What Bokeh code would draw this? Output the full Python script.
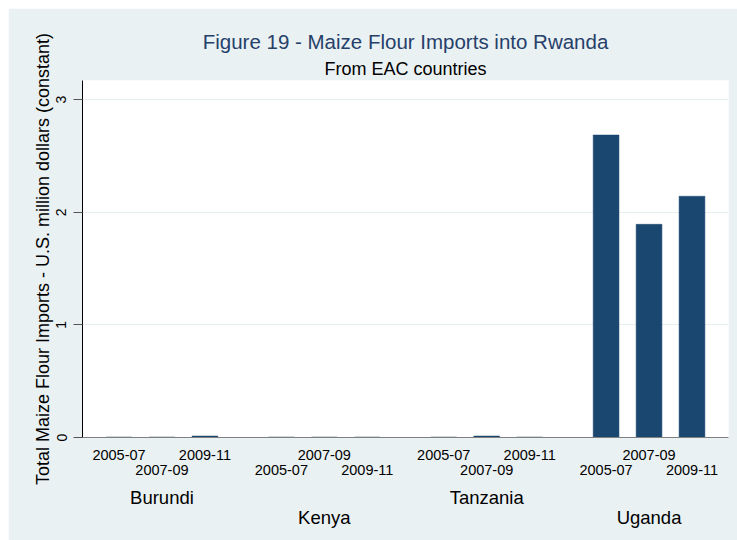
from bokeh.plotting import figure
from bokeh.models import (FactorRange, Range1d, ColumnDataSource, FixedTicker,
                          LinearAxis, Title)
from bokeh.embed import file_html
from bokeh.resources import INLINE

# ---- data ----
countries = ["Burundi", "Kenya", "Tanzania", "Uganda"]
periods = ["2005-07", "2007-09", "2009-11"]
burundi = [0.004, 0.004, 0.013]
kenya = [0.004, 0.004, 0.004]
tanzania = [0.004, 0.013, 0.004]
uganda = [2.686, 1.893, 2.142]
y_ticks = [0, 1, 2, 3]

title_text = "Figure 19 - Maize Flour Imports into Rwanda"
subtitle_text = "From EAC countries"
y_title = "Total Maize Flour Imports - U.S. million dollars (constant)"

FONT = "Liberation Sans"
BG = "#eaf1f3"
BAR = "#1a476f"

series = [burundi, kenya, tanzania, uganda]
factors = [(c, p) for c in countries for p in periods]
values = [v for s in series for v in s]

GP = 0.78
x_range = FactorRange(*factors, group_padding=GP, factor_padding=0.0,
                      range_padding=0.35, range_padding_units="absolute")

p = figure(x_range=x_range, y_range=Range1d(0, 3.17), x_axis_location=None,
           width=729, height=532, output_backend="svg", toolbar_location=None,
           min_border_left=74, min_border_right=9, min_border_top=72, min_border_bottom=103,
           background_fill_color="white", border_fill_color=BG, outline_line_color=None)
p.margin = (8, 0, 0, 8)
p.title = None

src = ColumnDataSource(dict(x=factors, top=values))
p.vbar(x="x", top="top", width=0.6, source=src, fill_color=BAR, line_color=BAR, line_width=0.5)

# ---- y axis ----
p.yaxis.ticker = FixedTicker(ticks=y_ticks)
p.yaxis.major_label_orientation = "vertical"
p.yaxis.major_label_text_font = FONT
p.yaxis.major_label_text_font_size = "14px"
p.yaxis.major_label_text_color = "black"
p.yaxis.major_tick_out = 9
p.yaxis.major_tick_in = 0
p.yaxis.minor_tick_line_color = None
p.yaxis.axis_line_color = "black"
p.yaxis.major_tick_line_color = "#555555"
p.yaxis.major_label_standoff = 7
p.yaxis.axis_label = y_title
p.yaxis.axis_label_text_font = FONT
p.yaxis.axis_label_text_font_size = "18px"
p.yaxis.axis_label_text_font_style = "normal"
p.yaxis.axis_label_text_color = "black"
p.yaxis.axis_label_standoff = 1

p.ygrid.grid_line_color = "#e6eef1"
p.ygrid.grid_line_width = 1
p.xgrid.grid_line_color = None
p.xgrid.visible = False

# ---- x axes: staggered period rows and country rows ----
n_per = len(periods)
pos = [0.5 + k + (k // n_per) * GP for k in range(len(factors))]
grp = [1.5 + g * (n_per + GP) for g in range(len(countries))]
per_labels = [f[1] for f in factors]


def make_axis(ticks, labels, size, standoff, line_color=None):
    ax = LinearAxis(ticker=FixedTicker(ticks=ticks, minor_ticks=[]),
                    major_label_overrides={t: l for t, l in zip(ticks, labels)},
                    major_tick_line_color=None, minor_tick_line_color=None,
                    major_tick_out=0, major_tick_in=0,
                    major_label_standoff=standoff,
                    major_label_text_font=FONT, major_label_text_font_size=size,
                    major_label_text_color="black",
                    axis_line_color=line_color)
    p.add_layout(ax, "below")
    return ax


make_axis(pos[0::2], per_labels[0::2], "14.5px", 12, line_color="#808080")
make_axis(pos[1::2], per_labels[1::2], "14.5px", 2)
make_axis(grp[0::2], countries[0::2], "18.5px", 9)
make_axis(grp[1::2], countries[1::2], "18.5px", -4)

# ---- titles (first added is closest to the frame) ----
p.add_layout(Title(text=subtitle_text, align="center", text_font=FONT, text_font_size="18px",
                   text_font_style="normal", text_color="black", standoff=4), "above")
p.add_layout(Title(text=title_text, align="center", text_font=FONT, text_font_size="20.5px",
                   text_font_style="normal", text_color="#26406a", standoff=4), "above")

open("out.html", "w").write(file_html(p, INLINE))
